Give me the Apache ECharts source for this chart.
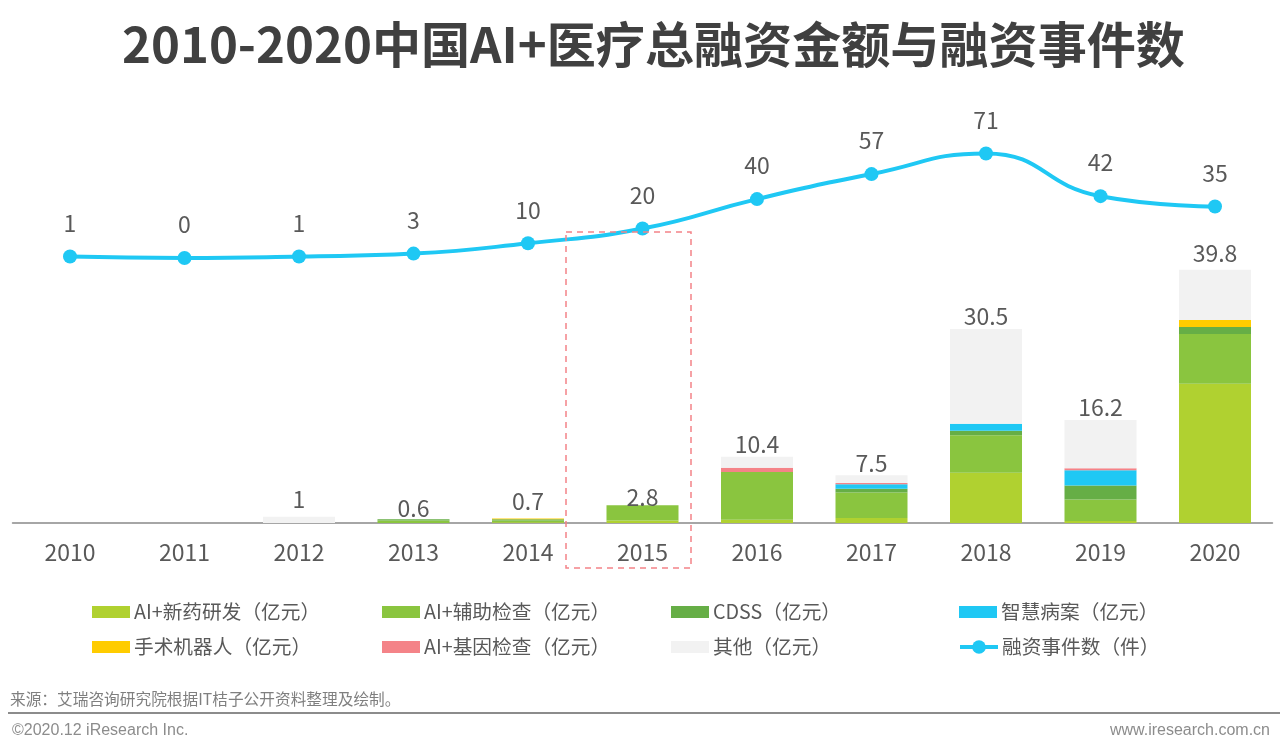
<!DOCTYPE html>
<html lang="zh-CN">
<head>
	<meta charset="UTF-8">
	<title>2010-2020中国AI+医疗总融资金额与融资事件数</title>
	<script src="https://cdn.jsdelivr.net/npm/echarts@6/dist/echarts.min.js"></script>
	<style>
		html, body { margin: 0; padding: 0; background: #fff; }
		#main { width: 1280px; height: 754px; }
	</style>
</head>
<body>
	<div id="main"></div>
	<script>
		var years = ['2010','2011','2012','2013','2014','2015','2016','2017','2018','2019','2020'];
		var drug    = [0, 0, 0,   0,   0.1, 0.4, 0.5, 0.8, 7.9,  0.3, 21.9];
		var assist  = [0, 0, 0,   0.4, 0.3, 2.4, 7.5, 4.0, 5.9,  3.4, 7.8];
		var cdss    = [0, 0, 0,   0.2, 0.2, 0,   0,   0.6, 0.7,  2.2, 1.1];
		var record  = [0, 0, 0,   0,   0,   0,   0,   0.7, 1.1,  2.4, 0];
		var robot   = [0, 0, 0,   0,   0.1, 0,   0,   0,   0,    0,   1.1];
		var gene    = [0, 0, 0,   0,   0,   0,   0.7, 0.2, 0,    0.3, 0];
		var other   = [0, 0, 1,   0,   0,   0,   1.7, 1.2, 14.9, 7.6, 7.9];
		var totals  = [null, null, 1, 0.6, 0.7, 2.8, 10.4, 7.5, 30.5, 16.2, 39.8];
		var events  = [1, 0, 1, 3, 10, 20, 40, 57, 71, 42, 35];

		var textColor = '#595959';
		var cjk = '"Noto Sans CJK SC", "Noto Sans", sans-serif';
		var labelNudge = [0, 0, -5, 1, -5, 4, -1, 0, -1, -1, -5]; //合计标签上下微调

		function barSeries(name, data, color){ //堆叠柱子
			return {
				name: name,
				type: 'bar',
				stack: 'money',
				barWidth: 72,
				data: data,
				itemStyle: { color: color },
				emphasis: { disabled: true }
			};
		}

		function legendColumn(left, top, names, itemHeight, gap){ //每列一个图例，好对齐
			return {
				left: left,
				top: top,
				orient: 'vertical',
				padding: 0,
				itemWidth: 38,
				itemHeight: itemHeight,
				itemGap: gap,
				selectedMode: false,
				lineStyle: { width: 4 },
				data: names.map(function(n){
					return n == allNames.events ? { name: n } : { name: n, icon: 'rect' };
				}),
				textStyle: { color: textColor, fontSize: 19.7, fontFamily: cjk, lineHeight: 28, padding: [0, 0, 0, -1] }
			};
		}

		var allNames = {
			drug: 'AI+新药研发（亿元）',
			assist: 'AI+辅助检查（亿元）',
			cdss: 'CDSS（亿元）',
			record: '智慧病案（亿元）',
			robot: '手术机器人（亿元）',
			gene: 'AI+基因检查（亿元）',
			other: '其他（亿元）',
			events: '融资事件数（件）'
		};

		var option = {
			animation: false,
			backgroundColor: '#fff',
			title: {
				text: '2010-2020中国AI+医疗总融资金额与融资事件数',
				left: 122,
				top: 20,
				padding: 0,
				textStyle: { color: '#404040', fontSize: 49.1, fontWeight: 'bold', fontFamily: cjk }
			},
			legend: [
				legendColumn(92, 598, [allNames.drug, allNames.robot], 12, 7),
				legendColumn(382, 598, [allNames.assist, allNames.gene], 12, 7),
				legendColumn(671, 598, [allNames.cdss, allNames.other], 12, 7),
				legendColumn(959, 598, [allNames.record], 12, 7),
				legendColumn(958, 633, [allNames.events], 17, 7)
			],
			grid: { left: 12.75, right: 7.75, top: 125.5, bottom: 231 },
			xAxis: {
				type: 'category',
				data: years,
				axisTick: { show: false },
				axisLine: { lineStyle: { color: '#A6A6A6', width: 2 } },
				axisLabel: { color: textColor, fontSize: 23, margin: 18, fontFamily: cjk }
			},
			yAxis: [
				{ type: 'value', min: 0, max: 62.5, show: false, splitLine: { show: false } },
				{ type: 'value', min: -180, max: 90, show: false, splitLine: { show: false } }
			],
			series: [
				barSeries(allNames.drug, drug, '#B0D130'),
				barSeries(allNames.assist, assist, '#8AC53F'),
				barSeries(allNames.cdss, cdss, '#66AE46'),
				barSeries(allNames.record, record, '#1FC8F4'),
				barSeries(allNames.robot, robot, '#FFCC00'),
				barSeries(allNames.gene, gene, '#F48388'),
				barSeries(allNames.other, other, '#F2F2F2'),
				{
					name: '合计',
					type: 'line',
					data: totals.map(function(v, i){
						return { value: v, label: { offset: [0, labelNudge[i]] } };
					}),
					symbol: 'circle',
					symbolSize: 1,
					itemStyle: { color: 'transparent' },
					lineStyle: { color: 'transparent', width: 0 },
					label: { show: true, position: 'top', distance: 0, color: textColor, fontSize: 23, fontFamily: cjk },
					z: 5
				},
				{
					name: allNames.events,
					type: 'line',
					yAxisIndex: 1,
					data: events,
					smooth: 0.5,
					symbol: 'circle',
					symbolSize: 14,
					itemStyle: { color: '#1FC8F4' },
					lineStyle: { color: '#1FC8F4', width: 4 },
					label: { show: true, position: 'top', distance: 15, color: textColor, fontSize: 23, fontFamily: cjk },
					z: 6
				}
			],
			graphic: [
				{
					type: 'rect',
					shape: { x: 566, y: 232, width: 125, height: 336 },
					style: { fill: 'none', stroke: '#F48388', lineWidth: 1.5, lineDash: [6, 5] },
					z: 10
				},
				{
					type: 'text', left: 10, top: 691,
					style: { text: '来源：艾瑞咨询研究院根据IT桔子公开资料整理及绘制。', fill: '#7F7F7F', font: '15.7px ' + cjk }
				},
				{
					type: 'line',
					shape: { x1: 8, y1: 713, x2: 1280, y2: 713 },
					style: { stroke: '#8C8C8C', lineWidth: 2 }
				},
				{
					type: 'text', left: 12, top: 723,
					style: { text: '©2020.12 iResearch Inc.', fill: '#8C8C8C', font: '16px "Liberation Sans", Arial, sans-serif' }
				},
				{
					type: 'text', right: 10, top: 723,
					style: { text: 'www.iresearch.com.cn', fill: '#8C8C8C', font: '16px "Liberation Sans", Arial, sans-serif' }
				}
			]
		};

		echarts.init(document.getElementById('main')).setOption(option);
	</script>
</body>
</html>
